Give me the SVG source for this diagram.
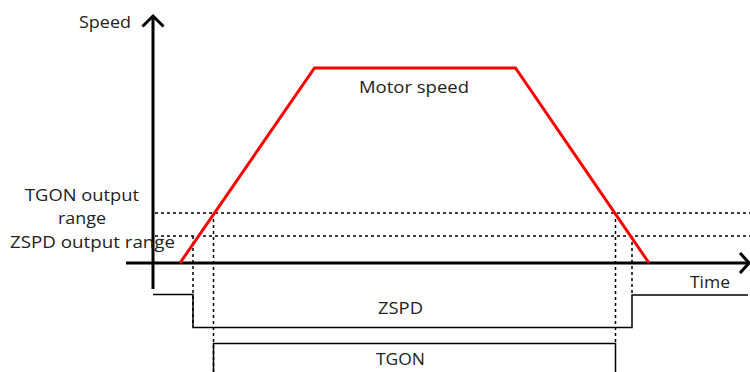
<svg xmlns="http://www.w3.org/2000/svg" width="750" height="372" viewBox="0 0 750 372">
<style>
text{font-family:"Open Sans","Noto Sans","DejaVu Sans",sans-serif;font-size:17px;fill:#222}
.axis{stroke:#000;stroke-width:3;fill:none}
.head{stroke:#000;stroke-width:3;fill:none;stroke-linecap:square}
.dash{stroke:#000;stroke-width:1.5;stroke-dasharray:3 3;fill:none}
.sig{stroke:#000;stroke-width:1.5;fill:none}
.red{stroke:#f00;stroke-width:3;fill:none;stroke-linejoin:miter}
</style>
<rect width="750" height="372" fill="#fff"/>
<g id="guides">
<path class="dash" d="M155 213H750M155 236H750"/>
<path class="dash" d="M193 236V327M213.5 213V372M615.5 213V343M632 236V295"/>
</g>
<g id="axes">
<path class="axis" d="M153 17V289"/>
<path class="head" d="M143.5 25.5L153 16L162.5 25.5"/>
<path class="axis" d="M126 263H748"/>
<path class="head" d="M741 254L749 263L741 272"/>
</g>
<g id="motor-speed">
<path class="red" d="M180 263L314.5 68H515.5L649 263"/>
</g>
<g id="zspd-signal">
<path class="sig" d="M153 294.5H193V327.5H632V295H748"/>
</g>
<g id="tgon-signal">
<path class="sig" d="M213.5 372V343.5H615.5V372"/>
</g>
<g id="labels">
<text x="79" y="28" textLength="52" lengthAdjust="spacingAndGlyphs">Speed</text>
<text x="82" y="201" text-anchor="middle" textLength="114" lengthAdjust="spacingAndGlyphs">TGON output</text>
<text x="82" y="224" text-anchor="middle" textLength="48" lengthAdjust="spacingAndGlyphs">range</text>
<text x="10" y="248" textLength="165" lengthAdjust="spacingAndGlyphs">ZSPD output range</text>
<text x="359" y="93" textLength="110" lengthAdjust="spacingAndGlyphs">Motor speed</text>
<text x="690" y="288" textLength="40" lengthAdjust="spacingAndGlyphs">Time</text>
<text x="378" y="314" textLength="45" lengthAdjust="spacingAndGlyphs">ZSPD</text>
<text x="376" y="365" textLength="49" lengthAdjust="spacingAndGlyphs">TGON</text>
</g>
</svg>
